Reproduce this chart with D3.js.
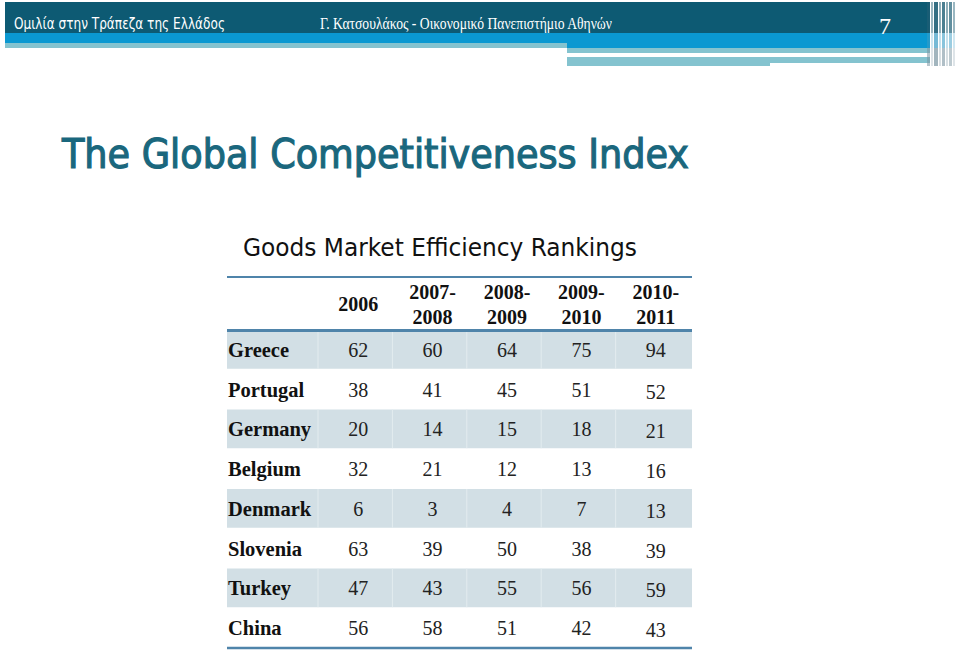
<!DOCTYPE html>
<html><head><meta charset="utf-8">
<script src="https://cdn.jsdelivr.net/npm/d3@7"></script>
<style>html,body{margin:0;padding:0;background:#fff;}svg{display:block;}</style>
</head><body>
<script>
// ---- data ----
const countries = ["Greece","Portugal","Germany","Belgium","Denmark","Slovenia","Turkey","China"];
const columnLabels = [["2006"],["2007-","2008"],["2008-","2009"],["2009-","2010"],["2010-","2011"]];
const rank2006    = [62,38,20,32,6,63,47,56];
const rank2007_08 = [60,41,14,21,3,39,43,58];
const rank2008_09 = [64,45,15,12,4,50,55,51];
const rank2009_10 = [75,51,18,13,7,38,56,42];
const rank2010_11 = [94,52,21,16,13,39,59,43];
const series = [rank2006, rank2007_08, rank2008_09, rank2009_10, rank2010_11];
const shadedRows = ["Greece","Germany","Denmark","Turkey"];

const W = 959, H = 650;
const svg = d3.select("body").append("svg").attr("width", W).attr("height", H);

// ---- slide header ----
const hdr = svg.append("g");
hdr.append("rect").attr("x",5).attr("y",2).attr("width",925).attr("height",31).attr("fill","#0d5a73");
hdr.append("rect").attr("x",5).attr("y",33).attr("width",925).attr("height",10).attr("fill","#0a98d1");
hdr.append("rect").attr("x",5).attr("y",43).attr("width",562).attr("height",5).attr("fill","#84c3cf");
hdr.append("rect").attr("x",567).attr("y",43).attr("width",363).attr("height",5).attr("fill","#0a98d1");
hdr.append("rect").attr("x",567).attr("y",48).attr("width",363).attr("height",5).attr("fill","#84c3cf");
hdr.append("rect").attr("x",567).attr("y",57).attr("width",203).attr("height",9).attr("fill","#84c3cf");
hdr.append("rect").attr("x",770).attr("y",57).attr("width",160).attr("height",6).attr("fill","#84c3cf");
// right-edge stripes
const stripes = [[927,3,0.55],[931,2,0.25],[934,4,0.7],[939,2,0.3],[942,3,0.6],[946,2,0.3],[949,3,0.5],[953,2,0.25]];
stripes.forEach(s=>{
  hdr.append("rect").attr("x",s[0]).attr("y",2).attr("width",s[1]).attr("height",31).attr("fill","#1e5f76").attr("opacity",s[2]+0.2);
  hdr.append("rect").attr("x",s[0]).attr("y",33).attr("width",s[1]).attr("height",15).attr("fill","#3a9cc4").attr("opacity",s[2]);
  hdr.append("rect").attr("x",s[0]).attr("y",48).attr("width",s[1]).attr("height",18).attr("fill","#7b95a2").attr("opacity",s[2]);
});
hdr.append("text").attr("x",14).attr("y",29).attr("fill","#fff")
  .style("font-family","'DejaVu Sans',sans-serif").style("font-size","15px")
  .attr("textLength",211).attr("lengthAdjust","spacingAndGlyphs")
  .text("Ομιλία στην Τράπεζα της Ελλάδος");
hdr.append("text").attr("x",320).attr("y",29).attr("fill","#fff")
  .style("font-family","'Liberation Serif','Times New Roman',serif").style("font-size","17px")
  .attr("textLength",292).attr("lengthAdjust","spacingAndGlyphs")
  .text("Γ. Κατσουλάκος  -  Οικονομικό Πανεπιστήμιο Αθηνών");
hdr.append("text").attr("x",885).attr("y",34).attr("fill","#fff").attr("text-anchor","middle")
  .style("font-family","'Liberation Serif','Times New Roman',serif").style("font-size","24px")
  .text("7");

// ---- titles ----
svg.append("text").attr("x",62).attr("y",168).attr("fill","#1a677d")
  .attr("stroke","#1a677d").attr("stroke-width",1.1)
  .style("font-family","'DejaVu Sans Condensed','DejaVu Sans',sans-serif").style("font-size","40px")
  .attr("textLength",627).attr("lengthAdjust","spacingAndGlyphs")
  .text("The Global Competitiveness Index");
svg.append("text").attr("x",243).attr("y",256).attr("fill","#111")
  .style("font-family","'DejaVu Sans Condensed','Open Sans',sans-serif").style("font-size","25px")
  .attr("textLength",394).attr("lengthAdjust","spacingAndGlyphs")
  .text("Goods Market Efficiency Rankings");

// ---- table ----
const tableLeft = 227, tableRight = 692;
const labelW = 93;
const x = d3.scaleBand().domain(d3.range(columnLabels.length)).range([tableLeft+labelW, tableRight]).paddingInner(0);
const y = d3.scaleBand().domain(countries).range([330, 648]);
const colShift = 1;

const tbl = svg.append("g");
// shaded rows
tbl.selectAll("rect.shade").data(shadedRows).join("rect")
  .attr("x",tableLeft).attr("y",d=>y(d)).attr("width",tableRight-tableLeft).attr("height",y.bandwidth()-1)
  .attr("fill","#d2dfe5");
// faint column dividers in shaded rows
shadedRows.forEach(r=>{
  d3.range(columnLabels.length).forEach(i=>{
    tbl.append("line").attr("x1",x(i)-2).attr("x2",x(i)-2).attr("y1",y(r)).attr("y2",y(r)+y.bandwidth()-1)
      .attr("stroke","#e3ecef").attr("stroke-width",1);
  });
});
// lines
tbl.append("line").attr("x1",tableLeft).attr("x2",tableRight).attr("y1",277).attr("y2",277).attr("stroke","#4f84aa").attr("stroke-width",2);
tbl.append("line").attr("x1",tableLeft).attr("x2",tableRight).attr("y1",330.5).attr("y2",330.5).attr("stroke","#4f84aa").attr("stroke-width",3);
tbl.append("line").attr("x1",tableLeft).attr("x2",tableRight).attr("y1",648).attr("y2",648).attr("stroke","#4f84aa").attr("stroke-width",2.5);

const serif = "'Liberation Serif','Times New Roman',serif";
// header
columnLabels.forEach((lab,i)=>{
  const cx = x(i) + x.bandwidth()/2 + colShift;
  const t = tbl.append("text").attr("text-anchor","middle").attr("fill","#111")
    .style("font-family",serif).style("font-weight","bold").style("font-size","20px");
  if (lab.length===1) {
    t.append("tspan").attr("x",cx).attr("y",311).text(lab[0]);
  } else {
    t.append("tspan").attr("x",cx).attr("y",299).text(lab[0]);
    t.append("tspan").attr("x",cx).attr("y",324).text(lab[1]);
  }
});
// rows
countries.forEach((c,ri)=>{
  const base = y(c) + y.bandwidth()/2 + 7;
  tbl.append("text").attr("x",228).attr("y",base).attr("fill","#111")
    .style("font-family",serif).style("font-weight","bold").style("font-size","20.5px").text(c);
  series.forEach((s,ci)=>{
    tbl.append("text").attr("x",x(ci)+x.bandwidth()/2 + colShift).attr("y",base + (ci===4 && ri>0 ? 2 : 0))
      .attr("text-anchor","middle").attr("fill","#222")
      .style("font-family",serif).style("font-size","20px").text(s[ri]);
  });
});
</script>
</body></html>
